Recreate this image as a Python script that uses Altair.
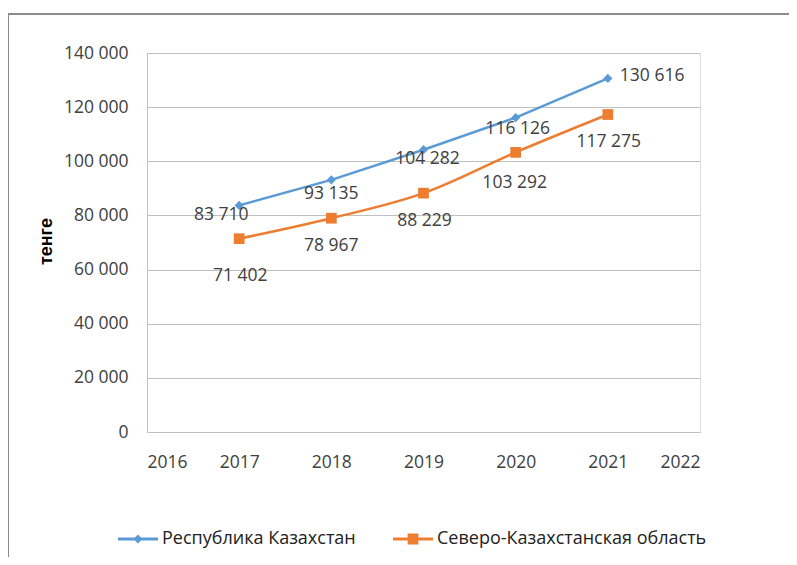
import altair as alt
import pandas as pd

# ---- data ----
years = [2017, 2018, 2019, 2020, 2021]
kz_values = [83710, 93135, 104282, 116126, 130616]
nko_values = [71402, 78967, 88229, 103292, 117275]
series_names = ["Республика Казахстан", "Северо-Казахстанская область"]
x_ticks = [2016, 2017, 2018, 2019, 2020, 2021, 2022]
y_ticks = [0, 20000, 40000, 60000, 80000, 100000, 120000, 140000]
y_title = "тенге"

# ---- styles ----
colors = ["#5B9BD5", "#ED7D31"]
FONT = "Open Sans"
FS = 17.5
TXT = "#404040"
# label offsets (dx, dy, align) per point, per series
kz_offsets = [(-18, 10, "center"), (0, 14, "center"), (4, 9, "center"), (2, 11, "center"), (12, -2, "left")]
nko_offsets = [(1, 37, "center"), (0, 28, "center"), (1, 28, "center"), (-1, 31, "center"), (1, 27, "center")]

def fmt(v):
    return f"{v:,}".replace(",", " ")

rows = []
for name, vals in zip(series_names, [kz_values, nko_values]):
    for yr, v in zip(years, vals):
        rows.append({"series": name, "year": yr, "value": v, "label": fmt(v)})
df = pd.DataFrame(rows)

W, H = 553, 379

x_enc = alt.X("year:Q",
              scale=alt.Scale(domain=[x_ticks[0], x_ticks[-1]], nice=False),
              axis=alt.Axis(values=x_ticks, format="d", title=None, grid=False,
                            domain=False, ticks=False, labelPadding=21,
                            labelFont=FONT, labelFontSize=FS, labelColor=TXT))
y_enc = alt.Y("value:Q",
              scale=alt.Scale(domain=[y_ticks[0], y_ticks[-1]], nice=False),
              axis=alt.Axis(values=y_ticks, title=y_title, grid=True, gridColor="#c0c0c0",
                            gridWidth=1, domain=True, domainColor="#c0c0c0", ticks=False,
                            labelPadding=19, labelFont=FONT, labelFontSize=FS, labelColor=TXT,
                            labelExpr="replace(format(datum.value, ','), ',', ' ')",
                            titleFont="Liberation Sans", titleFontSize=18, titleFontWeight="bold",
                            titleColor="#000000", titleX=-101, titleY=188,
                            titleAlign="center", titleBaseline="middle", titleAngle=-90))
color_enc = alt.Color("series:N", scale=alt.Scale(domain=series_names, range=colors))

base = alt.Chart(df)

# outer frame (decorative)
frame_v = alt.Chart(df).mark_rule(color="#8c8c8c", strokeWidth=1.3).encode(
    x=alt.value(-139), y=alt.value(-39), y2=alt.value(600))
frame_h = alt.Chart(df).mark_rule(color="#8c8c8c", strokeWidth=1.3).encode(
    x=alt.value(-139), x2=alt.value(700), y=alt.value(-39))

line_kz = base.transform_filter(alt.datum.series == series_names[0]).mark_line(
    strokeWidth=2.5).encode(x=x_enc, y=y_enc, color=color_enc)
line_nko = base.transform_filter(alt.datum.series == series_names[1]).mark_line(
    strokeWidth=2.5, interpolate="monotone").encode(x=x_enc, y=y_enc, color=color_enc)

pts_kz = base.transform_filter(alt.datum.series == series_names[0]).mark_point(
    shape="diamond", filled=True, size=85, opacity=1).encode(x=x_enc, y=y_enc, color=color_enc)
pts_nko = base.transform_filter(alt.datum.series == series_names[1]).mark_point(
    shape="square", filled=True, size=115, opacity=1).encode(x=x_enc, y=y_enc, color=color_enc)

# legend symbols: line with marker as custom paths
legend_paths = [
    "M-1,-0.07L1,-0.07L1,0.07L-1,0.07Z M0,-0.23L0.23,0L0,0.23L-0.23,0Z",
    "M-1,-0.07L1,-0.07L1,0.07L-1,0.07Z M-0.27,-0.27L0.27,-0.27L0.27,0.27L-0.27,0.27Z",
]
legend_layer = base.mark_point(filled=True, opacity=0).encode(
    x=x_enc, y=y_enc, color=color_enc,
    shape=alt.Shape("series:N", scale=alt.Scale(domain=series_names, range=legend_paths),
                    legend=alt.Legend(title=None, orient="none", direction="horizontal",
                                      legendX=-29, legendY=466, symbolSize=1600,
                                      symbolOpacity=1, symbolStrokeWidth=0,
                                      labelFont=FONT, labelFontSize=18, labelColor="#222222",
                                      labelOffset=4, columnPadding=37, padding=0,
                                      labelLimit=400)))

text_layers = []
for name, offs in zip(series_names, [kz_offsets, nko_offsets]):
    for yr, (dx, dy, al) in zip(years, offs):
        t = base.transform_filter(
            (alt.datum.series == name) & (alt.datum.year == yr)
        ).mark_text(dx=dx, dy=dy, align=al, baseline="middle", font=FONT,
                    fontSize=FS, color=TXT).encode(x=x_enc, y=y_enc, text="label:N")
        text_layers.append(t)

chart = alt.layer(
    frame_v, frame_h, line_kz, line_nko, pts_kz, pts_nko, legend_layer, *text_layers
).properties(
    width=W, height=H,
    autosize=alt.AutoSizeParams(type="none"),
    padding={"left": 139, "top": 45, "right": 89, "bottom": 125},
).configure_view(stroke=None).configure(background="white")

chart.save("out.html", embed_options={"renderer": "svg", "actions": False})
